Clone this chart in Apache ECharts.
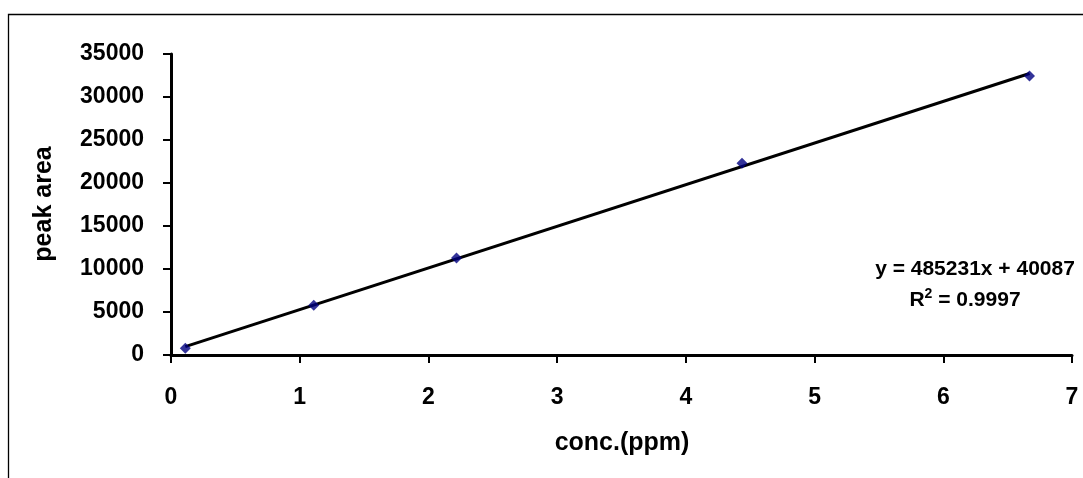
<!DOCTYPE html>
<html><head><meta charset="utf-8">
<script src="https://cdn.jsdelivr.net/npm/echarts@6/dist/echarts.min.js"></script>
<style>html,body{margin:0;padding:0;background:#fff}#c{width:1083px;height:478px}</style>
</head><body><div id="c"></div>
<script>
// Data
const concPpm = [0.111, 1.109, 2.218, 4.436, 6.67];
const peakArea = [780, 5780, 11280, 22300, 32450];
const xTicks = {min: 0, max: 7, interval: 1};
const yTicks = {min: 0, max: 35000, interval: 5000};
const xTitle = 'conc.(ppm)';
const yTitle = 'peak area';
const eqText = 'y = 485231x + 40087';
const r2Text = '0.9997';

// least squares trendline from the data
const n = concPpm.length;
const mx = concPpm.reduce((a,b)=>a+b,0)/n, my = peakArea.reduce((a,b)=>a+b,0)/n;
let sxy=0, sxx=0;
for (let i=0;i<n;i++){ sxy+=(concPpm[i]-mx)*(peakArea[i]-my); sxx+=(concPpm[i]-mx)**2; }
const slope = sxy/sxx, icpt = my - slope*mx;
const x0 = Math.min(...concPpm), x1 = Math.max(...concPpm);
const trend = [[x0, icpt+slope*x0],[x1, icpt+slope*x1]];

const FONT = '"Liberation Sans", Arial, sans-serif';
const chart = echarts.init(document.getElementById('c'), null, {renderer:'canvas'});
chart.setOption({
  animation: false,
  backgroundColor: '#fff',
  grid: {left: 171, right: 11, top: 54, bottom: 123, containLabel: false},
  xAxis: {
    type: 'value', min: xTicks.min, max: xTicks.max, interval: xTicks.interval,
    axisLine: {show: true, onZero: false, lineStyle: {color: '#000', width: 3}},
    axisTick: {show: true, inside: false, length: 8, lineStyle: {color: '#000', width: 2}},
    axisLabel: {color: '#000', fontFamily: FONT, fontWeight: 'bold', fontSize: 23, margin: 31, formatter: v => String(v)},
    splitLine: {show: false}
  },
  yAxis: {
    type: 'value', min: yTicks.min, max: yTicks.max, interval: yTicks.interval,
    axisLine: {show: true, onZero: false, lineStyle: {color: '#000', width: 3}},
    axisTick: {show: true, inside: false, length: 8, lineStyle: {color: '#000', width: 2}},
    axisLabel: {color: '#000', fontFamily: FONT, fontWeight: 'bold', fontSize: 23, margin: 27, formatter: v => String(v)},
    splitLine: {show: false}
  },
  series: [
    {type: 'line', data: trend, symbol: 'none', lineStyle: {color: '#000', width: 3}, z: 2, silent: true},
    {type: 'scatter', data: concPpm.map((x,i)=>[x, peakArea[i]]), symbol: 'diamond', symbolSize: 11,
     itemStyle: {color: '#000080'}, z: 3}
  ],
  graphic: [
    {type: 'rect', shape: {x: 8.5, y: 14.5, width: 1200, height: 600}, style: {fill: 'none', stroke: '#000', lineWidth: 1.3}, z: -1},
    {type: 'text', x: 622, y: 443, style: {text: xTitle, align: 'center', verticalAlign: 'middle', fill: '#000', font: 'bold 25px ' + FONT}},
    {type: 'text', rotation: Math.PI/2, x: 44, y: 204, style: {text: yTitle, x: 0, y: 0, align: 'center', verticalAlign: 'middle', fill: '#000', font: 'bold 25px ' + FONT}},
    {type: 'text', x: 975, y: 269, style: {text: eqText, align: 'center', verticalAlign: 'middle', fill: '#000', font: 'bold 21px ' + FONT}},
    {type: 'text', x: 965, y: 300, style: {
      text: '{r|R}{s|2}{r| = ' + r2Text + '}', align: 'center', verticalAlign: 'middle',
      rich: {
        r: {fontFamily: FONT, fontWeight: 'bold', fontSize: 21, fill: '#000', color: '#000', lineHeight: 26},
        s: {fontFamily: FONT, fontWeight: 'bold', fontSize: 14, fill: '#000', color: '#000', verticalAlign: 'top', lineHeight: 26}
      }
    }}
  ]
});
</script></body></html>
